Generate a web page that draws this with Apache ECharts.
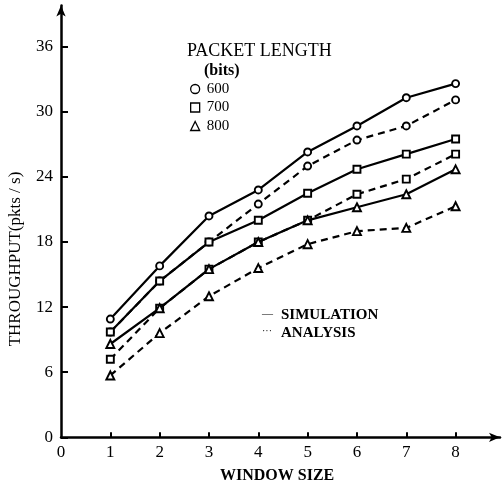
<!DOCTYPE html>
<html><head><meta charset="utf-8">
<script src="https://cdn.jsdelivr.net/npm/echarts@6/dist/echarts.min.js"></script>
<style>html,body{margin:0;padding:0;background:#fff}#c{width:502px;height:489px}</style>
</head><body><div id="c"></div><script>
// ---- data ----
const windowSizes = [1, 2, 3, 4, 5, 6, 7, 8];
const sim600 = [10.9, 15.8, 20.4, 22.8, 26.3, 28.7, 31.3, 32.6];
const ana600 = [9.7, 14.4, 18.0, 21.5, 25.0, 27.4, 28.7, 31.1];
const sim700 = [9.7, 14.4, 18.0, 20.0, 22.5, 24.7, 26.1, 27.5];
const ana700 = [7.2, 11.9, 15.5, 18.0, 20.0, 22.4, 23.8, 26.1];
const sim800 = [8.6, 11.9, 15.5, 18.0, 20.0, 21.2, 22.4, 24.7];
const ana800 = [5.7, 9.6, 13.0, 15.6, 17.8, 19.0, 19.3, 21.3];
const yTickLabels = [0, 6, 12, 18, 24, 30, 36];
const xTickLabels = [0, 1, 2, 3, 4, 5, 6, 7, 8];
const xTickMarks = [1, 2, 3, 4, 5, 6, 7, 8];
const lengths = ['600', '700', '800'];

const SERIF = '"Liberation Serif", "DejaVu Serif", serif';
const pairs = arr => windowSizes.map((x, i) => [x, arr[i]]);
const symbols = { '600': 'circle', '700': 'rect', '800': 'triangle' };
const symSize = { '600': 7, '700': 7, '800': 8 };

function mk(name, len, arr, dashed) {
  return {
    name: name, type: 'line', data: pairs(arr),
    symbol: symbols[len], symbolSize: symSize[len],
    showAllSymbol: true,
    itemStyle: { color: '#fff', borderColor: '#000', borderWidth: 1.9 },
    lineStyle: { color: '#000', width: 2.2, type: dashed ? [7, 5] : 'solid' },
    emphasis: { disabled: true },
    z: dashed ? 2 : 3
  };
}

const chart = echarts.init(document.getElementById('c'), null, { renderer: 'canvas' });
chart.setOption({
  backgroundColor: '#fff',
  animation: false,
  grid: { left: 61, top: 5.5, width: 439, height: 431.8, containLabel: false },
  xAxis: {
    type: 'value', min: 0, max: 8.9,
    axisLine: { show: true, symbol: ['none', 'arrow'], symbolSize: [7, 11], lineStyle: { color: '#000', width: 2.5 } },
    axisTick: { show: true, inside: true, length: 5, customValues: xTickMarks, lineStyle: { color: '#000', width: 2 } },
    axisLabel: { customValues: xTickLabels, margin: 7, color: '#000', fontFamily: SERIF, fontSize: 17 },
    splitLine: { show: false }
  },
  yAxis: {
    type: 'value', min: 0, max: 39.8,
    axisLine: { show: true, symbol: ['none', 'arrow'], symbolSize: [7, 11], lineStyle: { color: '#000', width: 2.5 } },
    axisTick: { show: true, inside: true, length: 7, customValues: yTickLabels, lineStyle: { color: '#000', width: 2 } },
    axisLabel: { customValues: yTickLabels, margin: 8, color: '#000', fontFamily: SERIF, fontSize: 17 },
    splitLine: { show: false }
  },
  legend: {
    orient: 'vertical', left: 185, top: 76.5, itemGap: 3.5,
    itemWidth: 9, itemHeight: 9,
    textStyle: { fontFamily: SERIF, fontSize: 15, color: '#000', padding: [0, 0, 0, 2] },
    data: lengths.map(l => ({ name: l, icon: symbols[l],
      itemStyle: { color: '#fff', borderColor: '#000', borderWidth: 1.3 } })),
    selectedMode: false
  },
  graphic: [
    { type: 'text', left: 187, top: 42, style: { text: 'PACKET LENGTH', font: '18px ' + SERIF, fill: '#000' } },
    { type: 'text', left: 204, top: 63, style: { text: '(bits)', font: 'bold 16px ' + SERIF, fill: '#000' } },
    { type: 'text', left: 262, top: 309, style: { text: '—', font: '11px ' + SERIF, fill: '#000' } },
    { type: 'text', left: 262, top: 326, style: { text: '···', font: '10px ' + SERIF, fill: '#000' } },
    { type: 'text', left: 281, top: 308, style: { text: 'SIMULATION', font: 'bold 15px ' + SERIF, fill: '#000' } },
    { type: 'text', left: 281, top: 326, style: { text: 'ANALYSIS', font: 'bold 15px ' + SERIF, fill: '#000' } },
    { type: 'text', left: 220, top: 468, style: { text: 'WINDOW SIZE', font: 'bold 16px ' + SERIF, fill: '#000' } },
    { type: 'text', x: 16, y: 259, rotation: Math.PI / 2,
      style: { text: 'THROUGHPUT(pkts / s)', font: '17px ' + SERIF, fill: '#000', align: 'center', verticalAlign: 'middle' } }
  ],
  series: [
    mk('600', '600', sim600, false),
    mk('ana600', '600', ana600, true),
    mk('700', '700', sim700, false),
    mk('ana700', '700', ana700, true),
    mk('800', '800', sim800, false),
    mk('ana800', '800', ana800, true)
  ]
});
</script></body></html>
